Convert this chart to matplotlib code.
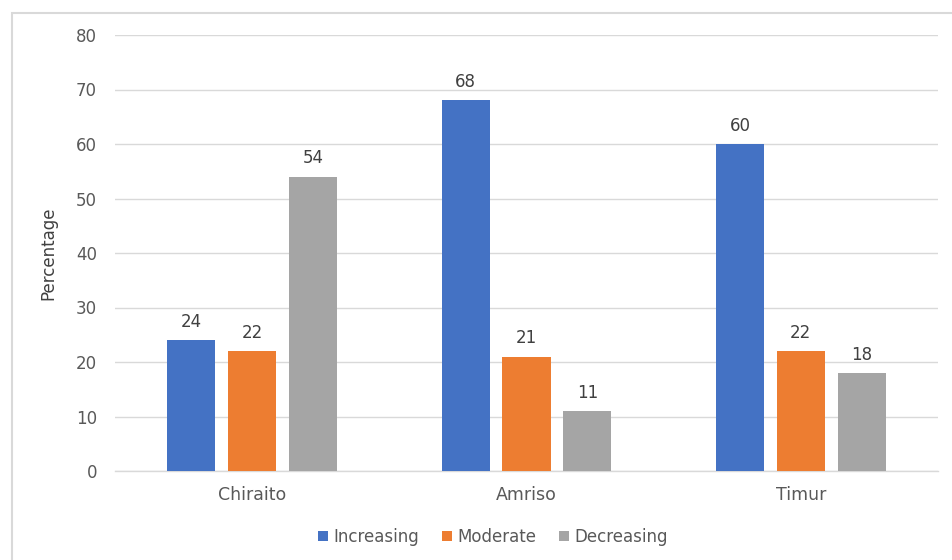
import matplotlib
matplotlib.use("Agg")
import matplotlib.pyplot as plt
import matplotlib.patches as mpatches
import numpy as np

categories = ["Chiraito", "Amriso", "Timur"]
series_names = ["Increasing", "Moderate", "Decreasing"]
increasing = [24, 68, 60]
moderate = [22, 21, 22]
decreasing = [54, 11, 18]
yticks = [0, 10, 20, 30, 40, 50, 60, 70, 80]

colors = ["#4472C4", "#ED7D31", "#A5A5A5"]
text_color = "#595959"

plt.rcParams['font.family'] = ['DejaVu Sans']

W, H = 952, 560
fig = plt.figure(figsize=(W/100, H/100), dpi=100)
ax = fig.add_axes([115/W, 1-471/H, (938-115)/W, (471-35)/H])

# outer border
fig.patches.append(mpatches.Rectangle((11.5/W, -0.1), 1.2, 1 - 12.5/H + 0.1,
                                      transform=fig.transFigure, fill=False,
                                      edgecolor="#D9D9D9", linewidth=1.5))

x = np.arange(len(categories))
width = 0.175
offset = 0.222
for i, (vals, name) in enumerate(zip([increasing, moderate, decreasing], series_names)):
    pos = x + (i - 1) * offset
    bars = ax.bar(pos, vals, width, color=colors[i], label=name, zorder=3)
    for b, v in zip(bars, vals):
        ax.text(b.get_x() + b.get_width()/2, v + 1.7, str(v), ha="center", va="bottom",
                fontsize=12, color="#404040")

ax.set_xlim(-0.5, 2.5)
ax.set_ylim(0, 80)
ax.set_yticks(yticks)
ax.yaxis.grid(True, color="#D9D9D9", linewidth=1, zorder=0)
ax.set_axisbelow(True)
for s in ["top", "right", "left"]:
    ax.spines[s].set_visible(False)
ax.spines["bottom"].set_color("#D9D9D9")
ax.spines["bottom"].set_linewidth(1)
ax.tick_params(axis="both", length=0, labelsize=12, colors=text_color)
ax.tick_params(axis="y", pad=13)
ax.tick_params(axis="x", pad=11, labelsize=12.5)
ax.set_xticks(x)
ax.set_xticklabels(categories)
ax.set_ylabel("Percentage", fontsize=12, color="#404040")
ax.yaxis.set_label_coords((57-115)/823, 0.5)

leg = fig.legend(loc="center", bbox_to_anchor=(493/W, 1-537/H), ncol=3, frameon=False,
                 fontsize=12, handlelength=0.6, handleheight=0.6, columnspacing=1.4,
                 handletextpad=0.3)
for t in leg.get_texts():
    t.set_color(text_color)

fig.savefig("out.png", dpi=100)
